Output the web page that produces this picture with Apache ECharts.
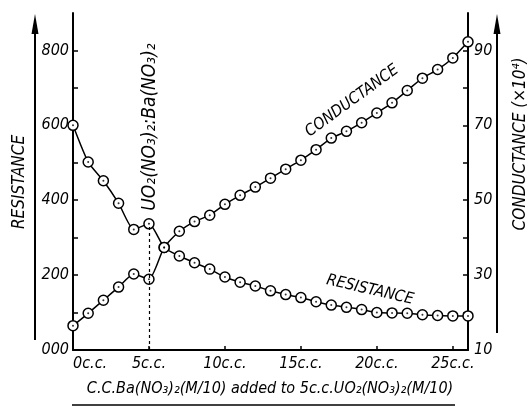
<!DOCTYPE html>
<html><head><meta charset="utf-8">
<script src="https://cdn.jsdelivr.net/npm/echarts@6/dist/echarts.min.js"></script>
<style>html,body{margin:0;padding:0;background:#fff}#c{width:530px;height:407px}</style>
</head><body><div id="c"></div>
<script>
// Data (x in c.c. of Ba(NO3)2 added)
const volumes = [0,1,2,3,4,5,6,7,8,9,10,11,12,13,14,15,16,17,18,19,20,21,22,23,24,25,26];
const resistance = [600,502,452,392,322,337,274,251,233,216,195,181,171,158,148,140,129,120,114,108,100,99,98,94,92,91,91];
const conductance = [16.5,19.8,23.3,26.8,30.3,28.9,37.4,41.7,44.3,46,48.9,51.3,53.5,55.9,58.3,60.7,63.5,66.6,68.4,70.7,73.3,76,79.3,82.6,84.9,88,92.3];
const xTicks = [0,5,10,15,20,25];
const resTicks = [0,200,400,600,800];
const resMinorTicks = [100,200,300,400,500,600,700,800];
const condTicks = [10,30,50,70,90];
const condMinorTicks = [20,30,40,50,60,70,80,90];
const equivalencePoint = 5;

const FONT = '"Liberation Sans Narrow","DejaVu Sans Condensed",sans-serif';
const resPts = volumes.map((v,i)=>[v,resistance[i]]);
const condPts = volumes.map((v,i)=>[v,conductance[i]]);

const chart = echarts.init(document.getElementById('c'));
const lineStyleBase = {color:'#000', width:1.5};
const txt = {fontFamily:FONT, fontStyle:'italic', color:'#000'};

chart.setOption({
  animation:false,
  backgroundColor:'#fff',
  grid:{left:73,right:62,top:13,bottom:57},
  xAxis:{
    type:'value', min:0, max:26, interval:5,
    axisLine:{show:true,onZero:false,lineStyle:{color:'#000',width:2}},
    axisTick:{show:true,inside:true,length:4,customValues:xTicks.slice(1),lineStyle:{color:'#000',width:1.5}},
    splitLine:{show:false},
    axisLabel:{...txt,fontSize:16,margin:6,alignMinLabel:'left',customValues:xTicks,
      formatter:v=> v+'c.c.'}
  },
  yAxis:[{
    type:'value', min:0, max:900, interval:100,
    axisLine:{show:true,lineStyle:{color:'#000',width:2}},
    axisTick:{show:true,inside:true,length:5,customValues:resMinorTicks,lineStyle:{color:'#000',width:1.5}},
    splitLine:{show:false},
    axisLabel:{...txt,fontSize:16,margin:4,customValues:resTicks,
      formatter:v=> v===0?'000':String(v)}
  },{
    type:'value', min:10, max:100, interval:10, position:'right',
    axisLine:{show:true,lineStyle:{color:'#000',width:2}},
    axisTick:{show:true,inside:true,length:5,customValues:condMinorTicks,lineStyle:{color:'#000',width:1.5}},
    splitLine:{show:false},
    axisLabel:{...txt,fontSize:16,margin:6,customValues:condTicks,
      formatter:v=> String(v)}
  }],
  series:[
    {type:'line', yAxisIndex:0, data:resPts, smooth:0.2,
     symbol:'circle', symbolSize:10,
     itemStyle:{color:'#fff',borderColor:'#000',borderWidth:1.5},
     lineStyle:lineStyleBase, z:3,
     markLine:{silent:true, symbol:'none', label:{show:false},
       lineStyle:{color:'#000',type:[3,3],width:1.2},
       data:[[{coord:[equivalencePoint,0]},{coord:[equivalencePoint,resistance[volumes.indexOf(equivalencePoint)]]}]]}
    },
    {type:'line', yAxisIndex:1, data:condPts, smooth:0.2,
     symbol:'circle', symbolSize:10,
     itemStyle:{color:'#fff',borderColor:'#000',borderWidth:1.5},
     lineStyle:lineStyleBase, z:3},
    {type:'scatter', yAxisIndex:0, data:resPts, symbolSize:2, itemStyle:{color:'#000'}, z:5},
    {type:'scatter', yAxisIndex:1, data:condPts, symbolSize:2, itemStyle:{color:'#000'}, z:5}
  ],
  graphic:[
    // left arrow
    {type:'line', shape:{x1:35,y1:340,x2:35,y2:28}, style:{stroke:'#000',lineWidth:2}},
    {type:'polygon', shape:{points:[[35,14],[31.5,34],[38.5,34]]}, style:{fill:'#000'}},
    // right arrow
    {type:'line', shape:{x1:497,y1:333,x2:497,y2:28}, style:{stroke:'#000',lineWidth:2}},
    {type:'polygon', shape:{points:[[497,14],[493.5,34],[500.5,34]]}, style:{fill:'#000'}},
    // bottom underline
    {type:'line', shape:{x1:72,y1:405,x2:455,y2:405}, style:{stroke:'#000',lineWidth:1.5}},
    {type:'text', x:20, y:182, rotation:Math.PI/2,
     style:{text:'RESISTANCE', font:'italic 17px '+FONT, fill:'#000', align:'center', verticalAlign:'middle'}},
    {type:'text', x:521, y:144, rotation:Math.PI/2,
     style:{text:'CONDUCTANCE (×10⁴)', font:'italic 17px '+FONT, fill:'#000', align:'center', verticalAlign:'middle'}},
    {type:'text', x:150, y:127, rotation:Math.PI/2,
     style:{text:'UO₂(NO₃)₂:Ba(NO₃)₂', font:'italic 19px '+FONT, fill:'#000', align:'center', verticalAlign:'middle'}},
    {type:'text', x:352, y:101, rotation:36*Math.PI/180,
     style:{text:'CONDUCTANCE', font:'italic 16px '+FONT, fill:'#000', align:'center', verticalAlign:'middle'}},
    {type:'text', x:370, y:290, rotation:-13*Math.PI/180,
     style:{text:'RESISTANCE', font:'italic 16px '+FONT, fill:'#000', align:'center', verticalAlign:'middle'}},
    {type:'text', x:270, y:389,
     style:{text:'C.C.Ba(NO₃)₂(M/10) added to 5c.c.UO₂(NO₃)₂(M/10)', font:'italic 16px '+FONT, fill:'#000', align:'center', verticalAlign:'middle'}}
  ]
});
</script></body></html>
